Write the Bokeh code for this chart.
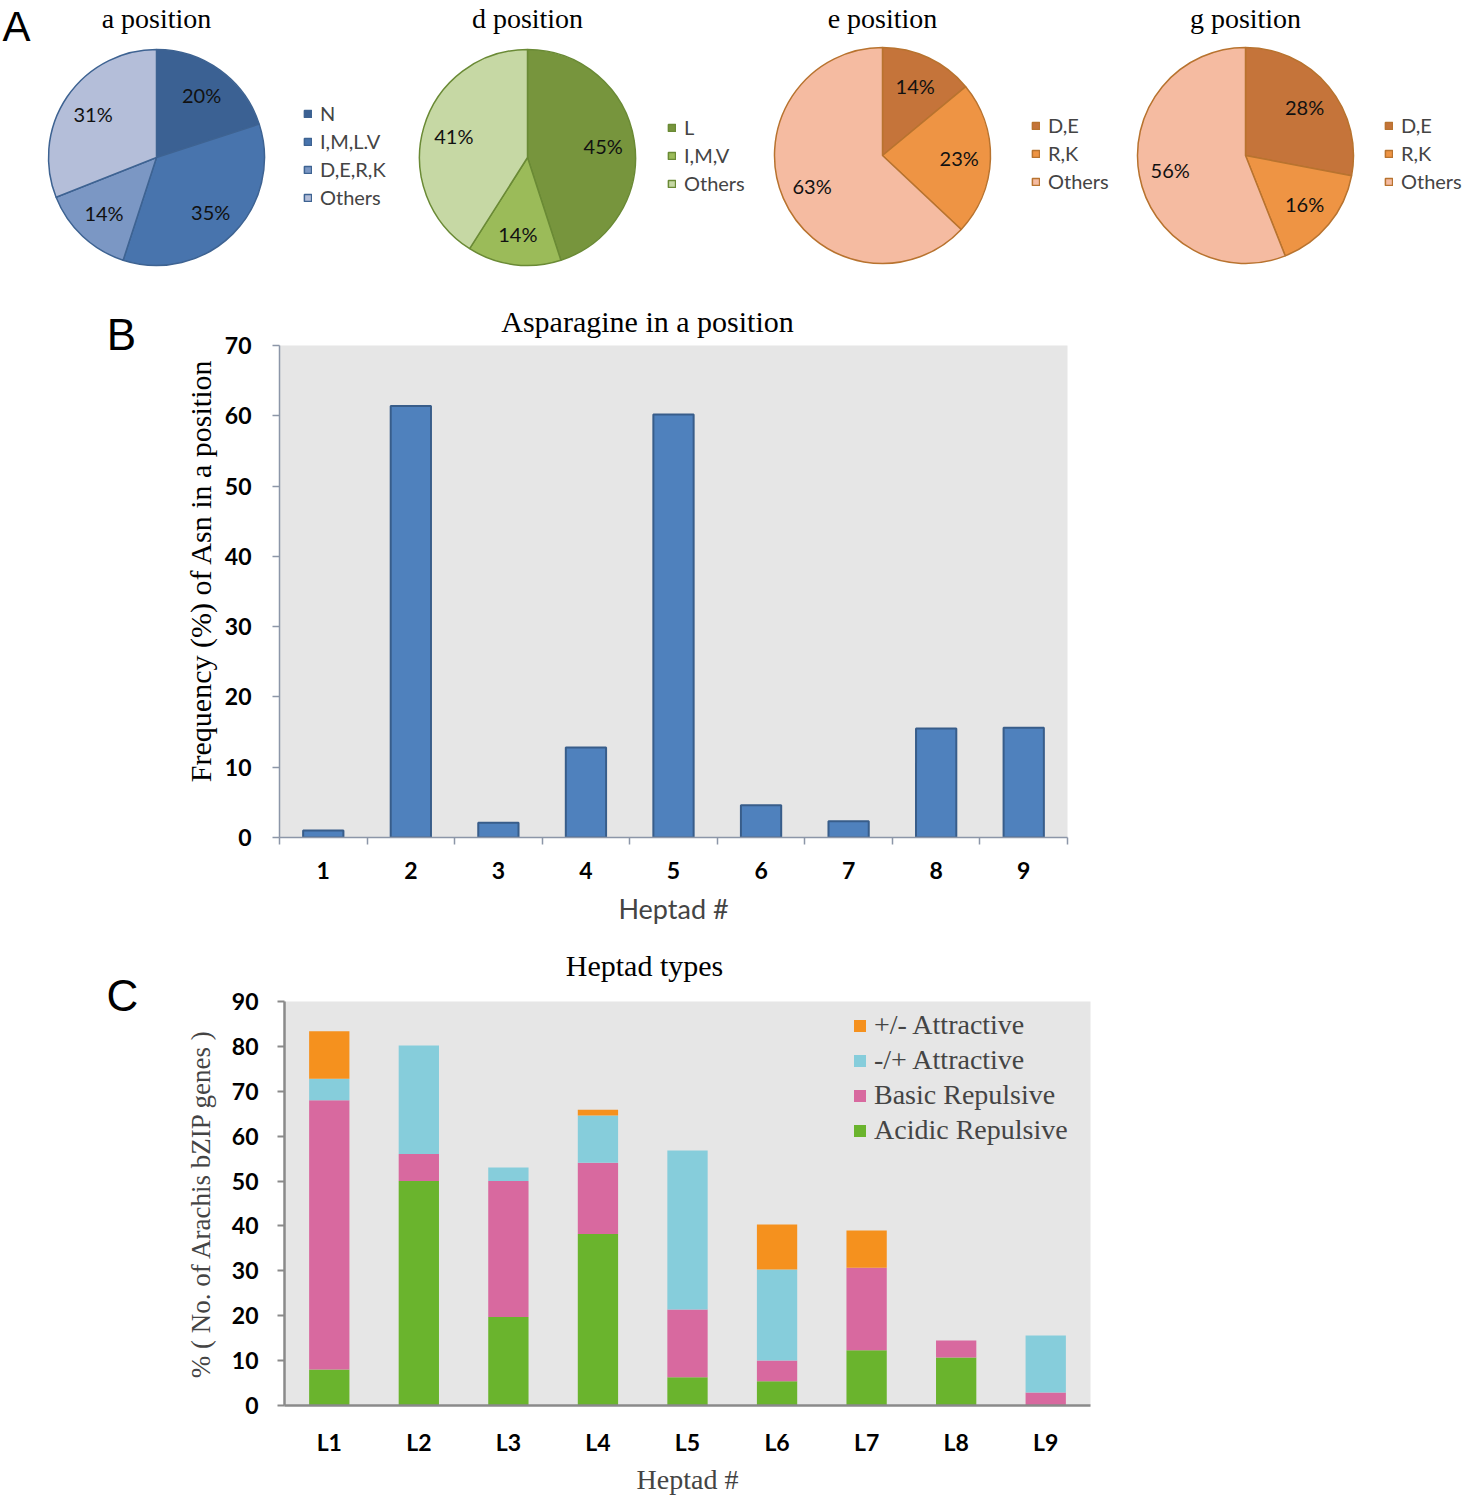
import numpy as np
from bokeh.plotting import figure
from bokeh.models import (ColumnDataSource, Range1d, Legend, LegendItem,
                          FixedTicker, FactorRange)
from bokeh.embed import file_html
from bokeh.resources import INLINE
from bokeh.core.properties import value

# ---------------- Panel A data ----------------
pie_titles = ["a position", "d position", "e position", "g position"]
a_labels = ["N", "I,M,L.V", "D,E,R,K", "Others"]
a_values = [20, 35, 14, 31]
d_labels = ["L", "I,M,V", "Others"]
d_values = [45, 14, 41]
e_labels = ["D,E", "R,K", "Others"]
e_values = [14, 23, 63]
g_labels = ["D,E", "R,K", "Others"]
g_values = [28, 16, 56]

# ---------------- Panel B data ----------------
heptads = [1, 2, 3, 4, 5, 6, 7, 8, 9]
asn_freq = [1.0, 61.4, 2.1, 12.8, 60.2, 4.6, 2.3, 15.5, 15.6]

# ---------------- Panel C data ----------------
heptad_types = ["L1", "L2", "L3", "L4", "L5", "L6", "L7", "L8", "L9"]
acidic_repulsive = [8.0, 50.0, 19.7, 38.2, 6.3, 5.4, 12.3, 10.7, 0.0]
basic_repulsive = [60.0, 6.0, 30.3, 15.9, 15.1, 4.6, 18.4, 3.8, 2.9]
minus_plus_attractive = [4.8, 24.2, 3.0, 10.5, 35.4, 20.3, 0.0, 0.0, 12.7]
plus_minus_attractive = [10.6, 0.0, 0.0, 1.3, 0.0, 10.0, 8.3, 0.0, 0.0]

SANS = "Lato"
SERIF = "Liberation Serif"
W, H = 1465, 1498

# ================= Base page figure: pies, panel letters and titles =================
base = figure(width=W, height=H, x_range=Range1d(0, W), y_range=Range1d(-H, 0),
              output_backend="svg", toolbar_location=None, min_border=0,
              x_axis_location=None, y_axis_location=None, outline_line_color=None)
base.xgrid.visible = False
base.ygrid.visible = False

blue = ["#3b6193", "#4874ad", "#7b97c4", "#b4bed9"]
green = ["#77953d", "#9bbb59", "#c6d8a4"]
orange = ["#c5743a", "#ee9444", "#f5bba1"]

ROW = 28
pies = [
    (156, 157, 108, pie_titles[0], a_labels, a_values, blue, "#3e6392", (303, 99)),
    (527, 157, 108, pie_titles[1], d_labels, d_values, green, "#6a8a35", (667, 113)),
    (882, 155, 108, pie_titles[2], e_labels, e_values, orange, "#b8732f", (1031, 111)),
    (1245, 155, 108, pie_titles[3], g_labels, g_values, orange, "#b8732f", (1384, 111)),
]

for cx, cy, R, title, labels, vals, cols, edge, (lgx, lgy) in pies:
    v = np.array(vals, dtype=float)
    frac = v / v.sum()
    cum = np.concatenate([[0.0], np.cumsum(frac)])
    start = np.pi / 2 - 2 * np.pi * cum[:-1]
    end = np.pi / 2 - 2 * np.pi * cum[1:]
    mid = (start + end) / 2
    n = len(vals)
    src = ColumnDataSource(dict(x=[cx] * n, y=[-cy] * n, start=start, end=end,
                                color=cols, label=labels))
    r = base.wedge(x="x", y="y", radius=R, start_angle="start", end_angle="end",
                   direction="clock", fill_color="color", line_color=edge,
                   line_width=1.5, source=src)
    lx = cx + 0.71 * R * np.cos(mid)
    ly = -cy + 0.71 * R * np.sin(mid)
    base.text(x=list(lx), y=list(ly), text=[f"{int(x)}%" for x in vals],
              text_font=value(SANS), text_font_size="20px", text_align="center",
              text_baseline="middle", text_color="#111111")
    base.text(x=[cx], y=[-18], text=[title], text_font=value(SERIF),
              text_font_size="28px", text_align="center", text_baseline="middle",
              text_color="black")
    leg = Legend(items=[LegendItem(label=labels[i], renderers=[r], index=i) for i in range(n)],
                 location=(lgx, H - (lgy + n * ROW)), padding=0, spacing=0, label_height=ROW,
                 glyph_width=9, glyph_height=9, label_standoff=8,
                 label_text_font=SANS, label_text_font_size="20px",
                 border_line_color=None, background_fill_alpha=0)
    base.add_layout(leg)

# panel letters, chart titles and panel B's vertical axis title
base.text(x=[16], y=[-26], text=["A"],
          text_font=value("Liberation Sans"), text_font_size="42px",
          text_align="center", text_baseline="middle", text_color="black")
base.text(x=[121, 122], y=[-334, -995], text=["B", "C"],
          text_font=value("Liberation Sans"), text_font_size="44px",
          text_align="center", text_baseline="middle", text_color="black")
base.text(x=[647, 644], y=[-321, -965], text=["Asparagine in a position", "Heptad types"],
          text_font=value(SERIF), text_font_size="30px",
          text_align="center", text_baseline="middle", text_color="black")
base.text(x=[200], y=[-570], text=["Frequency (%) of Asn in a position"], angle=np.pi / 2,
          text_font=value(SERIF), text_font_size="30px",
          text_align="center", text_baseline="middle", text_color="black")

# ================= Panel B =================
pb = figure(width=W, height=640, x_range=Range1d(0.5, 9.5), y_range=Range1d(0, 70),
            output_backend="svg", toolbar_location=None,
            min_border_left=279, min_border_right=398, min_border_top=55, min_border_bottom=93,
            background_fill_color="#e6e6e6", outline_line_color=None,
            border_fill_color=None,
            styles={"position": "absolute", "left": "0px", "top": "290px"})
pb.xgrid.visible = False
pb.ygrid.visible = False
pb.vbar(x=heptads, top=asn_freq, width=0.46, fill_color="#4f81bd",
        line_color="#385d8a", line_width=2)

axc = "#8c96a8"
pb.xaxis.ticker = FixedTicker(ticks=heptads, minor_ticks=[0.5 + i for i in range(10)])
pb.xaxis.major_tick_out = 0
pb.xaxis.major_tick_in = 0
pb.xaxis.minor_tick_out = 7
pb.xaxis.minor_tick_in = 0
pb.xaxis.minor_tick_line_color = axc
pb.xaxis.minor_tick_line_width = 1.5
pb.xaxis.axis_line_color = axc
pb.xaxis.axis_line_width = 1.5
pb.xaxis.major_label_standoff = 17
pb.xaxis.major_label_text_font = SANS
pb.xaxis.major_label_text_font_size = "23px"
pb.xaxis.major_label_text_font_style = "bold"
pb.xaxis.major_label_text_color = "black"
pb.xaxis.axis_label = "Heptad #"
pb.xaxis.axis_label_text_font = SANS
pb.xaxis.axis_label_text_font_size = "27px"
pb.xaxis.axis_label_text_font_style = "normal"
pb.xaxis.axis_label_standoff = 10

pb.yaxis.ticker = FixedTicker(ticks=list(range(0, 71, 10)))
pb.yaxis.minor_tick_line_color = None
pb.yaxis.major_tick_out = 7
pb.yaxis.major_tick_in = 0
pb.yaxis.major_tick_line_color = axc
pb.yaxis.major_tick_line_width = 1.5
pb.yaxis.axis_line_color = axc
pb.yaxis.axis_line_width = 1.5
pb.yaxis.major_label_standoff = 21
pb.yaxis.major_label_text_font = SANS
pb.yaxis.major_label_text_font_size = "23px"
pb.yaxis.major_label_text_font_style = "bold"
pb.yaxis.major_label_text_color = "black"

# ================= Panel C =================
pc = figure(width=W, height=568, x_range=FactorRange(*heptad_types), y_range=Range1d(0, 90),
            output_backend="svg", toolbar_location=None,
            min_border_left=284, min_border_right=375, min_border_top=71, min_border_bottom=93,
            background_fill_color="#e6e6e6", outline_line_color=None,
            border_fill_color=None,
            styles={"position": "absolute", "left": "0px", "top": "930px"})
pc.xgrid.visible = False
pc.ygrid.visible = False

srcC = ColumnDataSource(dict(cat=heptad_types, acid=acidic_repulsive, basic=basic_repulsive,
                             mp=minus_plus_attractive, pm=plus_minus_attractive))
rs = pc.vbar_stack(["acid", "basic", "mp", "pm"], x="cat", width=0.45,
                   color=["#6ab42d", "#d8699f", "#86cddb", "#f5911e"],
                   line_color=None, source=srcC)
CROW = 34
legC = Legend(items=[LegendItem(label="+/- Attractive", renderers=[rs[3]]),
                     LegendItem(label="-/+ Attractive", renderers=[rs[2]]),
                     LegendItem(label="Basic Repulsive", renderers=[rs[1]]),
                     LegendItem(label="Acidic Repulsive", renderers=[rs[0]])],
              location=(568, 404 - (1008 - 1001) - 4 * CROW - 3), padding=0, spacing=1,
              label_height=CROW, glyph_width=15, glyph_height=15, label_standoff=7,
              label_text_font=SERIF, label_text_font_size="28px",
              border_line_color=None, background_fill_alpha=0)
pc.add_layout(legC)

axg = "#8a8a8a"
pc.xaxis.major_tick_line_color = None
pc.xaxis.minor_tick_line_color = None
pc.xaxis.axis_line_color = axg
pc.xaxis.axis_line_width = 2.5
pc.xaxis.major_label_standoff = 16
pc.xaxis.major_label_text_font = SANS
pc.xaxis.major_label_text_font_size = "23px"
pc.xaxis.major_label_text_font_style = "bold"
pc.xaxis.major_label_text_color = "black"
pc.xaxis.axis_label = "Heptad #"
pc.xaxis.axis_label_text_font = SERIF
pc.xaxis.axis_label_text_font_size = "28px"
pc.xaxis.axis_label_text_font_style = "normal"
pc.xaxis.axis_label_standoff = 5

pc.yaxis.ticker = FixedTicker(ticks=list(range(0, 91, 10)))
pc.yaxis.minor_tick_line_color = None
pc.yaxis.major_tick_out = 7
pc.yaxis.major_tick_in = 0
pc.yaxis.major_tick_line_color = axg
pc.yaxis.major_tick_line_width = 2
pc.yaxis.axis_line_color = axg
pc.yaxis.axis_line_width = 2.5
pc.yaxis.major_label_standoff = 19
pc.yaxis.major_label_text_font = SANS
pc.yaxis.major_label_text_font_size = "23px"
pc.yaxis.major_label_text_font_style = "bold"
pc.yaxis.major_label_text_color = "black"
pc.yaxis.axis_label = "% ( No. of Arachis bZIP genes )"
pc.yaxis.axis_label_text_font = SERIF
pc.yaxis.axis_label_text_font_size = "27px"
pc.yaxis.axis_label_text_font_style = "normal"
pc.yaxis.axis_label_standoff = 13

open("out.html", "w").write(file_html([base, pb, pc], INLINE))
